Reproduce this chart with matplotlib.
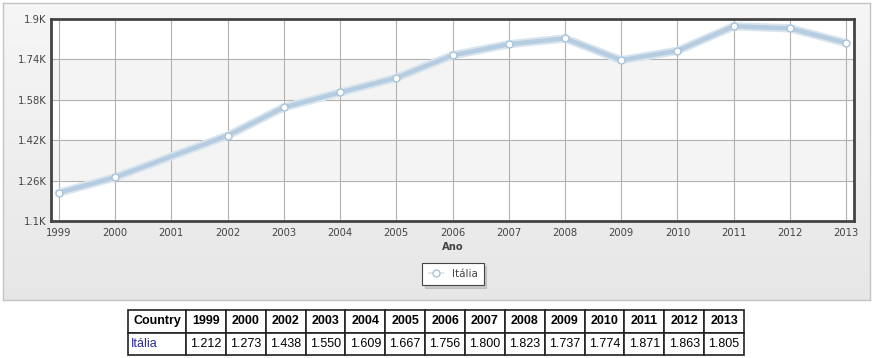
import numpy as np
import matplotlib.pyplot as plt
from matplotlib.ticker import FuncFormatter

# dados (em milhares)
anos = [1999, 2000, 2002, 2003, 2004, 2005, 2006, 2007, 2008, 2009, 2010, 2011, 2012, 2013]
italia = [1.212, 1.273, 1.438, 1.550, 1.609, 1.667, 1.756, 1.800, 1.823, 1.737, 1.774, 1.871, 1.863, 1.805]
serie = "Itália"
yticks = [1.1, 1.26, 1.42, 1.58, 1.74, 1.9]
xticks = list(range(1999, 2014))

W, H = 880, 358
fig = plt.figure(figsize=(W / 100, H / 100), dpi=100)
fig.patch.set_facecolor("white")

# painel de fundo com gradiente
bg = fig.add_axes([3 / W, 1 - 300 / H, 867 / W, 297 / H])
grad = np.linspace(0.965, 0.905, 100).reshape(-1, 1)
bg.imshow(np.dstack([grad, grad, grad]), aspect="auto", extent=[0, 1, 0, 1])
bg.set_xticks([])
bg.set_yticks([])
for s in bg.spines.values():
    s.set_color("#c4c4c4")
    s.set_linewidth(1)

# grafico
ax = fig.add_axes([51 / W, 1 - 221 / H, 803 / W, 202 / H])
ax.set_xlim(1999 - 0.14, 2013 + 0.14)
ax.set_ylim(1.1, 1.9)
ax.set_facecolor("white")
for i in range(len(yticks) - 1):
    if i % 2 == 1:
        ax.axhspan(yticks[i], yticks[i + 1], color="#f4f4f4", zorder=0)
ax.set_yticks(yticks)
ax.set_xticks(xticks)
ax.yaxis.set_major_formatter(FuncFormatter(lambda v, p: ("%g" % v) + "K"))
ax.grid(True, color="#b2b2b2", linewidth=0.8, zorder=1)
ax.set_axisbelow(True)
ax.tick_params(length=0, labelsize=7.2, colors="#444444")
ax.tick_params(axis="y", pad=3)
ax.tick_params(axis="x", pad=5)
for s in ax.spines.values():
    s.set_color("#444444")
    s.set_linewidth(2)

ax.plot(anos, italia, color="#d9e5ee", linewidth=6, solid_capstyle="round", zorder=3)
linha, = ax.plot(anos, italia, color="#b6cce0", linewidth=3.2, marker="o", markersize=5,
                 markerfacecolor="white", markeredgecolor="#a9c3d9", markeredgewidth=1,
                 label=serie, zorder=4)

fig.text(453 / W, 1 - 247 / H, "Ano", ha="center", va="center", fontsize=7.2,
         fontweight="bold", color="#444444")

leg = fig.legend(handles=[linha], loc="center", bbox_to_anchor=(453 / W, 1 - 274 / H),
                 fontsize=7.5, frameon=True, fancybox=False,
                 shadow={"color": "#aaaaaa", "alpha": 0.5},
                 handlelength=1.4, borderpad=0.6, labelcolor="#444444")
leg.get_frame().set_edgecolor("#444444")
leg.get_frame().set_linewidth(0.8)
leg.get_lines()[0].set_linewidth(1.5)
leg.get_lines()[0].set_color("#dde8f0")

# tabela
tab_ax = fig.add_axes([128 / W, 1 - 355 / H, 616 / W, 45 / H])
tab_ax.axis("off")
col_labels = ["Country"] + [str(a) for a in anos]
row = [serie] + ["%.3f" % v for v in italia]
larg = [58] + [(616 - 58) / len(anos)] * len(anos)
tab = tab_ax.table(cellText=[col_labels, row], colWidths=[w / 616 for w in larg],
                   cellLoc="center", bbox=[0, 0, 1, 1])
tab.auto_set_font_size(False)
for (r, c), cell in tab.get_celld().items():
    cell.set_edgecolor("#222222")
    cell.set_linewidth(1.2)
    t = cell.get_text()
    t.set_fontsize(9)
    t.set_family("Liberation Sans")
    if r == 0:
        t.set_fontweight("bold")
    elif c == 0:
        t.set_color("#2a2a9c")
        t.set_ha("left")
        cell._loc = "left"
        cell.PAD = 0.05

fig.savefig("out.png", dpi=100)
